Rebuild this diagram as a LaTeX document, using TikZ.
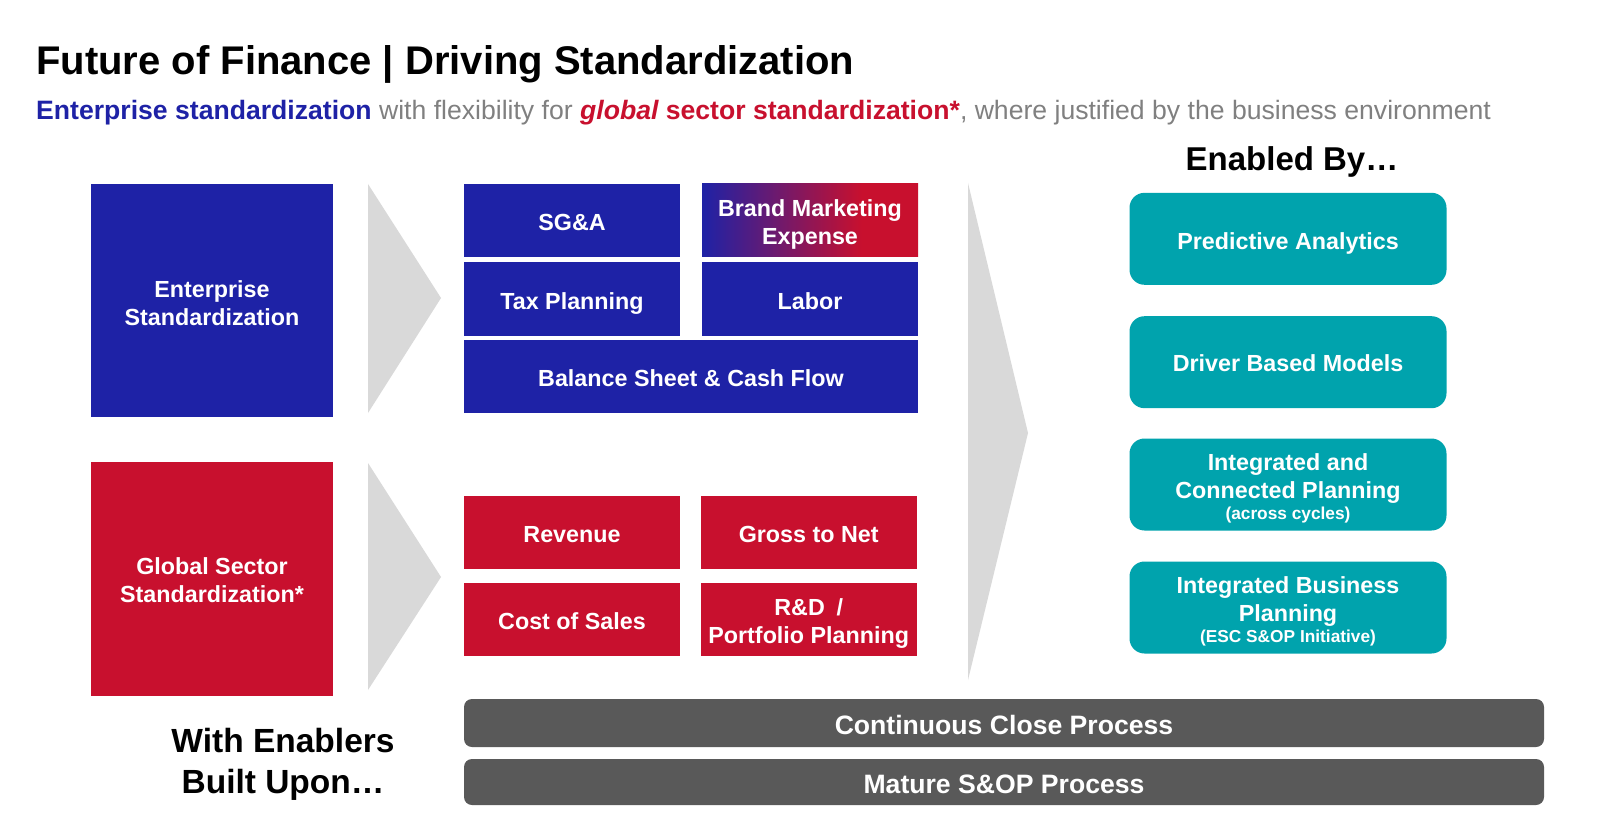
\documentclass[tikz,border=0pt]{standalone}
\usepackage{fontspec}
\setmainfont{Liberation Sans}
\definecolor{eblue}{RGB}{30,34,166}
\definecolor{ered}{RGB}{200,16,46}
\definecolor{tealbox}{RGB}{0,163,173}
\definecolor{barg}{RGB}{89,89,89}
\definecolor{arrg}{RGB}{217,217,217}
\definecolor{subg}{RGB}{128,128,128}
\pgfdeclarehorizontalshading{bmshade}{100bp}{color(0bp)=(eblue); color(25bp)=(eblue); color(62bp)=(ered); color(75bp)=(ered); color(100bp)=(ered)}
\tikzset{
  box/.style={rectangle, inner sep=0pt, text=white,
    font=\bfseries\fontsize{23.3}{28}\selectfont},
  bluebox/.style={box, fill=eblue},
  redbox/.style={box, fill=ered},
  smallbox/.style={minimum width=216pt, minimum height=73pt},
  bigbox/.style={minimum width=242pt, minimum height=233pt},
  tealbx/.style={box, fill=tealbox, rounded corners=15pt, minimum width=317pt, minimum height=92pt},
  barbox/.style={box, fill=barg, rounded corners=8pt, minimum width=1080pt,
    font=\bfseries\fontsize{26.6}{30}\selectfont},
  chev/.style={fill=arrg},
  headline/.style={inner sep=0pt, font=\bfseries\fontsize{33.5}{41}\selectfont, align=center}
}
% box text: first baseline placed #1 below the node centre
\newcommand{\bt}[2][10.3pt]{\raisebox{-#1}[0pt][0pt]{\begin{tabular}[t]{@{}c@{}}#2\end{tabular}}}
\newcommand{\smallline}[1]{{\fontsize{17.3}{21}\selectfont #1}}
\begin{document}
\begin{tikzpicture}[x=1pt,y=-1pt]
\useasboundingbox[fill=white] (0,0) rectangle (1600,834);

% title
\node[anchor=base west, inner sep=0pt, font=\bfseries\fontsize{40}{46}\selectfont] (title) at (36,75) {Future of Finance | Driving Standardization};
\node[anchor=base west, inner sep=0pt, font=\fontsize{26.6}{30}\selectfont] (subtitle) at (36,120)
  {{\color{eblue}\bfseries Enterprise standardization} {\color{subg}with flexibility for} {\color{ered}\bfseries\itshape global} {\color{ered}\bfseries sector standardization*}{\color{subg}, where justified by the business environment}};

% chevrons
\fill[chev] (368,184) -- (441,298) -- (368,413) -- cycle;
\fill[chev] (368,463) -- (441,577) -- (368,690) -- cycle;
\fill[chev] (968,183) -- (1028,433) -- (968,680) -- cycle;

% left boxes
\node[bluebox, bigbox] (ent) at (212,300.5) {\bt[-3pt]{Enterprise\\Standardization}};
\node[redbox, bigbox, minimum height=234pt] (gs) at (212,579) {\bt[-4.3pt]{Global Sector\\Standardization*}};

% enterprise group
\node[bluebox, smallbox] (sga) at (572,220.5) {\bt{SG\&A}};
\node[box, smallbox, shading=bmshade] (bm) at (810,220.5) {\bt[-4pt]{Brand Marketing\\Expense}};
\node[bluebox, smallbox, minimum height=74pt] (tax) at (572,299) {\bt{Tax Planning}};
\node[bluebox, smallbox, minimum height=74pt] (lab) at (810,299) {\bt{Labor}};
\node[bluebox, minimum width=454pt, minimum height=73pt] (bs) at (691,376.5) {\bt{Balance Sheet \& Cash Flow}};

% sector group
\node[redbox, smallbox] (rev) at (572,532.5) {\bt{Revenue}};
\node[redbox, smallbox] (gtn) at (808.7,532.5) {\bt{Gross to Net}};
\node[redbox, smallbox] (cos) at (572,619.4) {\bt{Cost of Sales}};
\node[redbox, smallbox] (rd) at (808.7,619.4) {\bt[-4.3pt]{R\&D\enspace/\\Portfolio Planning}};

% enablers
\node[headline, font=\bfseries\fontsize{33}{38}\selectfont, anchor=base] (enb) at (1292,171) {Enabled By…};
\node[tealbx] (pa) at (1288,238.8) {\bt{Predictive Analytics}};
\node[tealbx] (dbm) at (1288,362.2) {\bt[9.6pt]{Driver Based Models}};
\node[tealbx] (icp) at (1288,484.5) {\bt[-14.5pt]{Integrated and\\Connected Planning\\[-7pt]\smallline{(across cycles)}}};
\node[tealbx] (ibp) at (1288,607.5) {\bt[-14.5pt]{Integrated Business\\Planning\\[-7pt]\smallline{(ESC S\&OP Initiative)}}};

% bottom bars
\node[headline] (wit) at (283,764) {With Enablers\\Built Upon…};
\node[barbox, minimum height=48pt] (ccp) at (1004,723) {\bt[11pt]{Continuous Close Process}};
\node[barbox, minimum height=46pt] (sop) at (1004,782) {\bt[11.2pt]{Mature S\&OP Process}};
\end{tikzpicture}
\end{document}
